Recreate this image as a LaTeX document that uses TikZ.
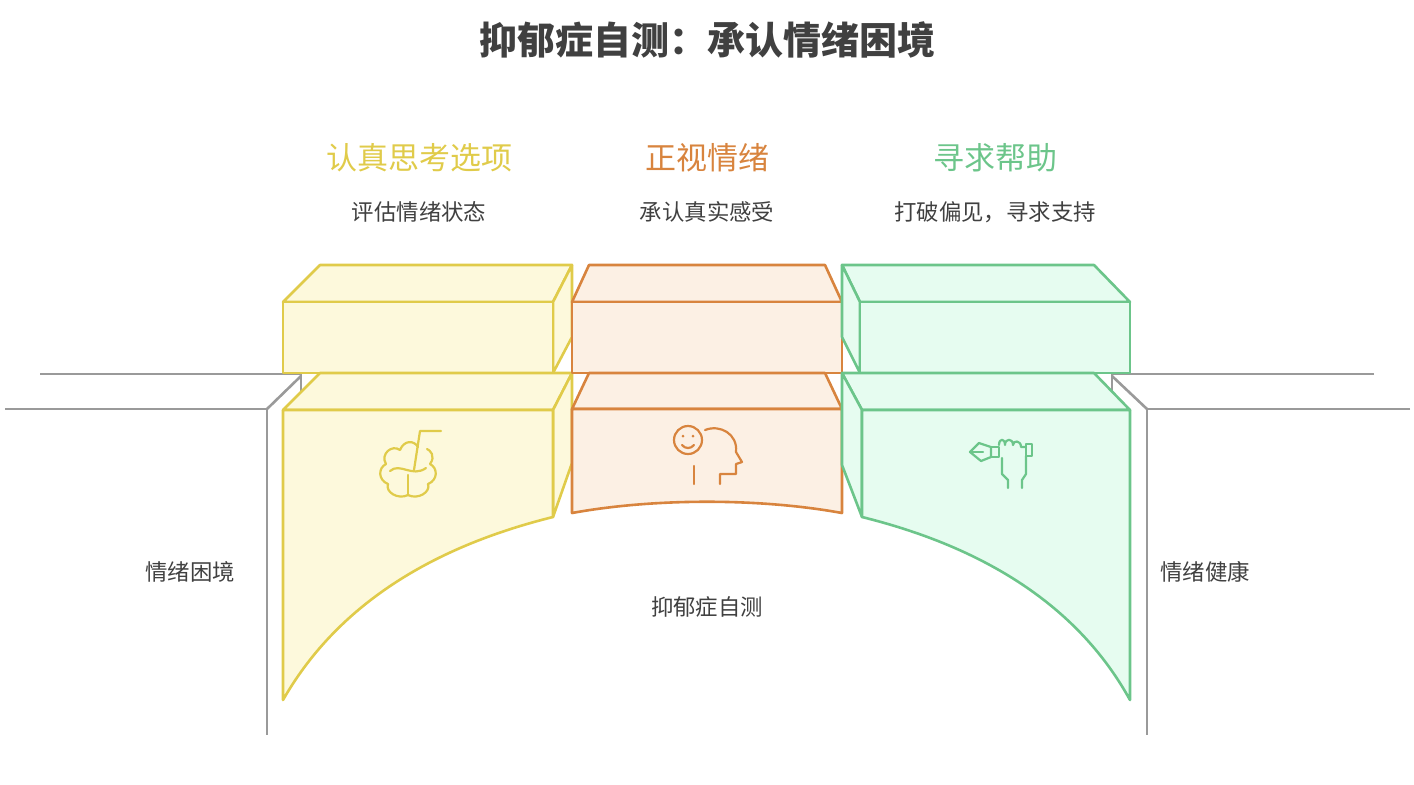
\documentclass[tikz,border=0pt]{standalone}
\usepackage{fontspec}
\setmainfont{Noto Sans CJK SC}
\usetikzlibrary{positioning}
\definecolor{ylwline}{HTML}{E0CB4A}
\definecolor{ylwfill}{HTML}{FDF9DC}
\definecolor{orgline}{HTML}{D8843E}
\definecolor{orgfill}{HTML}{FCF0E4}
\definecolor{grnline}{HTML}{6CC58A}
\definecolor{grnfill}{HTML}{E6FCF0}
\definecolor{roadgray}{HTML}{9A9A9A}
\tikzset{
  road/.style={draw=roadgray, line width=1.3pt},
  ylwblock/.style={draw=ylwline, fill=ylwfill, line width=1.3pt, line join=round},
  orgblock/.style={draw=orgline, fill=orgfill, line width=1.3pt, line join=round},
  grnblock/.style={draw=grnline, fill=grnfill, line width=1.3pt, line join=round},
  icon/.style={line width=1.1pt, line cap=round, line join=round},
  heading/.style={font=\fontsize{15.5pt}{18pt}\selectfont},
  subtext/.style={font=\fontsize{11.2pt}{13pt}\selectfont, text=black!75},
}
\begin{document}
\begin{tikzpicture}[x=0.5pt,y=-0.5pt]
\useasboundingbox (0,0) rectangle (1414,784);
% title
\node[font=\fontsize{19pt}{22pt}\selectfont\bfseries, text=black!75] (title) at (707,40) {抑郁症自测：承认情绪困境};

% roads
\draw[road] (40,374) -- (301,374) -- (301,395);
\draw[road] (301,376) -- (267,409);
\draw[road] (5,409) -- (267,409) -- (267,735);
\draw[road] (1374,374) -- (1112,374) -- (1112,395);
\draw[road] (1112,376) -- (1147,409);
\draw[road] (1410,409) -- (1147,409) -- (1147,735);

% yellow blocks
\draw[ylwblock] (283,302) -- (320,265) -- (572,265) -- (553,302) -- cycle;
\draw[ylwblock] (553,302) -- (572,265) -- (572,337) -- (553,373) -- cycle;
\draw[ylwblock] (283,302) rectangle (553,373);
\draw[ylwblock] (283,410) -- (320,373) -- (572,373) -- (553,410) -- cycle;
\draw[ylwblock] (553,410) -- (572,373) -- (572,463) -- (553,517) -- cycle;
\draw[ylwblock] (283,410) -- (553,410) -- (553,517) .. controls (440,545) and (340,600) .. (283,700) -- cycle;

% orange blocks
\draw[orgblock] (572,302) -- (589,265) -- (825,265) -- (842,302) -- cycle;
\draw[orgblock] (572,302) rectangle (842,373);
\draw[orgblock] (572,409) -- (589,373) -- (825,373) -- (842,409) -- cycle;
\draw[orgblock] (572,409) -- (842,409) -- (842,513) .. controls (760,498) and (654,498) .. (572,513) -- cycle;

% green blocks
\draw[grnblock] (842,265) -- (1094,265) -- (1130,302) -- (860,302) -- cycle;
\draw[grnblock] (842,265) -- (860,302) -- (860,373) -- (842,337) -- cycle;
\draw[grnblock] (860,302) rectangle (1130,373);
\draw[grnblock] (842,373) -- (1094,373) -- (1130,410) -- (862,410) -- cycle;
\draw[grnblock] (842,373) -- (862,410) -- (862,517) -- (842,465) -- cycle;
\draw[grnblock] (862,410) -- (1130,410) -- (1130,700) .. controls (1075,600) and (975,545) .. (862,517) -- cycle;

% brain icon
\begin{scope}[icon, draw=ylwline]
\draw (408,495) -- (408,475);
\draw (408,495) .. controls (398,500) and (385,492) .. (388,484)
  .. controls (378,480) and (378,468) .. (386,464)
  .. controls (380,454) and (392,444) .. (400,450)
  .. controls (404,440) and (414,440) .. (418,447);
\draw (408,495) .. controls (418,500) and (431,492) .. (428,484)
  .. controls (438,480) and (438,468) .. (430,464)
  .. controls (436,456) and (430,450) .. (427,449);
\draw (390,471) .. controls (400,462) and (412,478) .. (426,468);
\draw (414,470) -- (420,431) -- (441,431);
\end{scope}

% face icon
\begin{scope}[icon, draw=orgline]
\draw (688,440) circle (14);
\fill[orgline] (683,436) circle (1.5) (693,436) circle (1.5);
\draw (682,445) .. controls (685,449) and (691,449) .. (694,445);
\draw (694,466) -- (694,484);
\draw (705,430) .. controls (720,424) and (738,434) .. (736,452)
  -- (742,462) -- (736,464) -- (736,474) -- (720,474) -- (720,484);
\end{scope}

% hand icon
\begin{scope}[icon, draw=grnline]
\draw (970,452) -- (979,443) -- (991,447) -- (991,457) -- (981,461) -- cycle;
\draw (970,452) -- (983,452);
\draw (991,447) rectangle (999,457);
\draw (999,445) .. controls (999,438) and (1005,438) .. (1005,445)
  .. controls (1005,438) and (1013,438) .. (1013,445)
  .. controls (1013,440) and (1021,440) .. (1021,447)
  -- (1026,447);
\draw (1026,444) rectangle (1032,456);
\draw (1026,456) -- (1026,474) -- (1022,480) -- (1022,488);
\draw (1002,458) -- (1002,474) -- (1008,480) -- (1008,488);
\end{scope}

% labels
\node[heading, text=ylwline] (thinkhead) at (419,158) {认真思考选项};
\node[subtext] (thinksub) at (419,212) {评估情绪状态};
\node[heading, text=orgline] (facehead) at (707,158) {正视情绪};
\node[subtext] (facesub) at (707,212) {承认真实感受};
\node[heading, text=grnline] (helphead) at (995,158) {寻求帮助};
\node[subtext] (helpsub) at (995,212) {打破偏见，寻求支持};
\node[subtext] (leftside) at (190,572) {情绪困境};
\node[subtext] (bridge) at (707,607) {抑郁症自测};
\node[subtext] (rightside) at (1205,572) {情绪健康};
\end{tikzpicture}
\end{document}
